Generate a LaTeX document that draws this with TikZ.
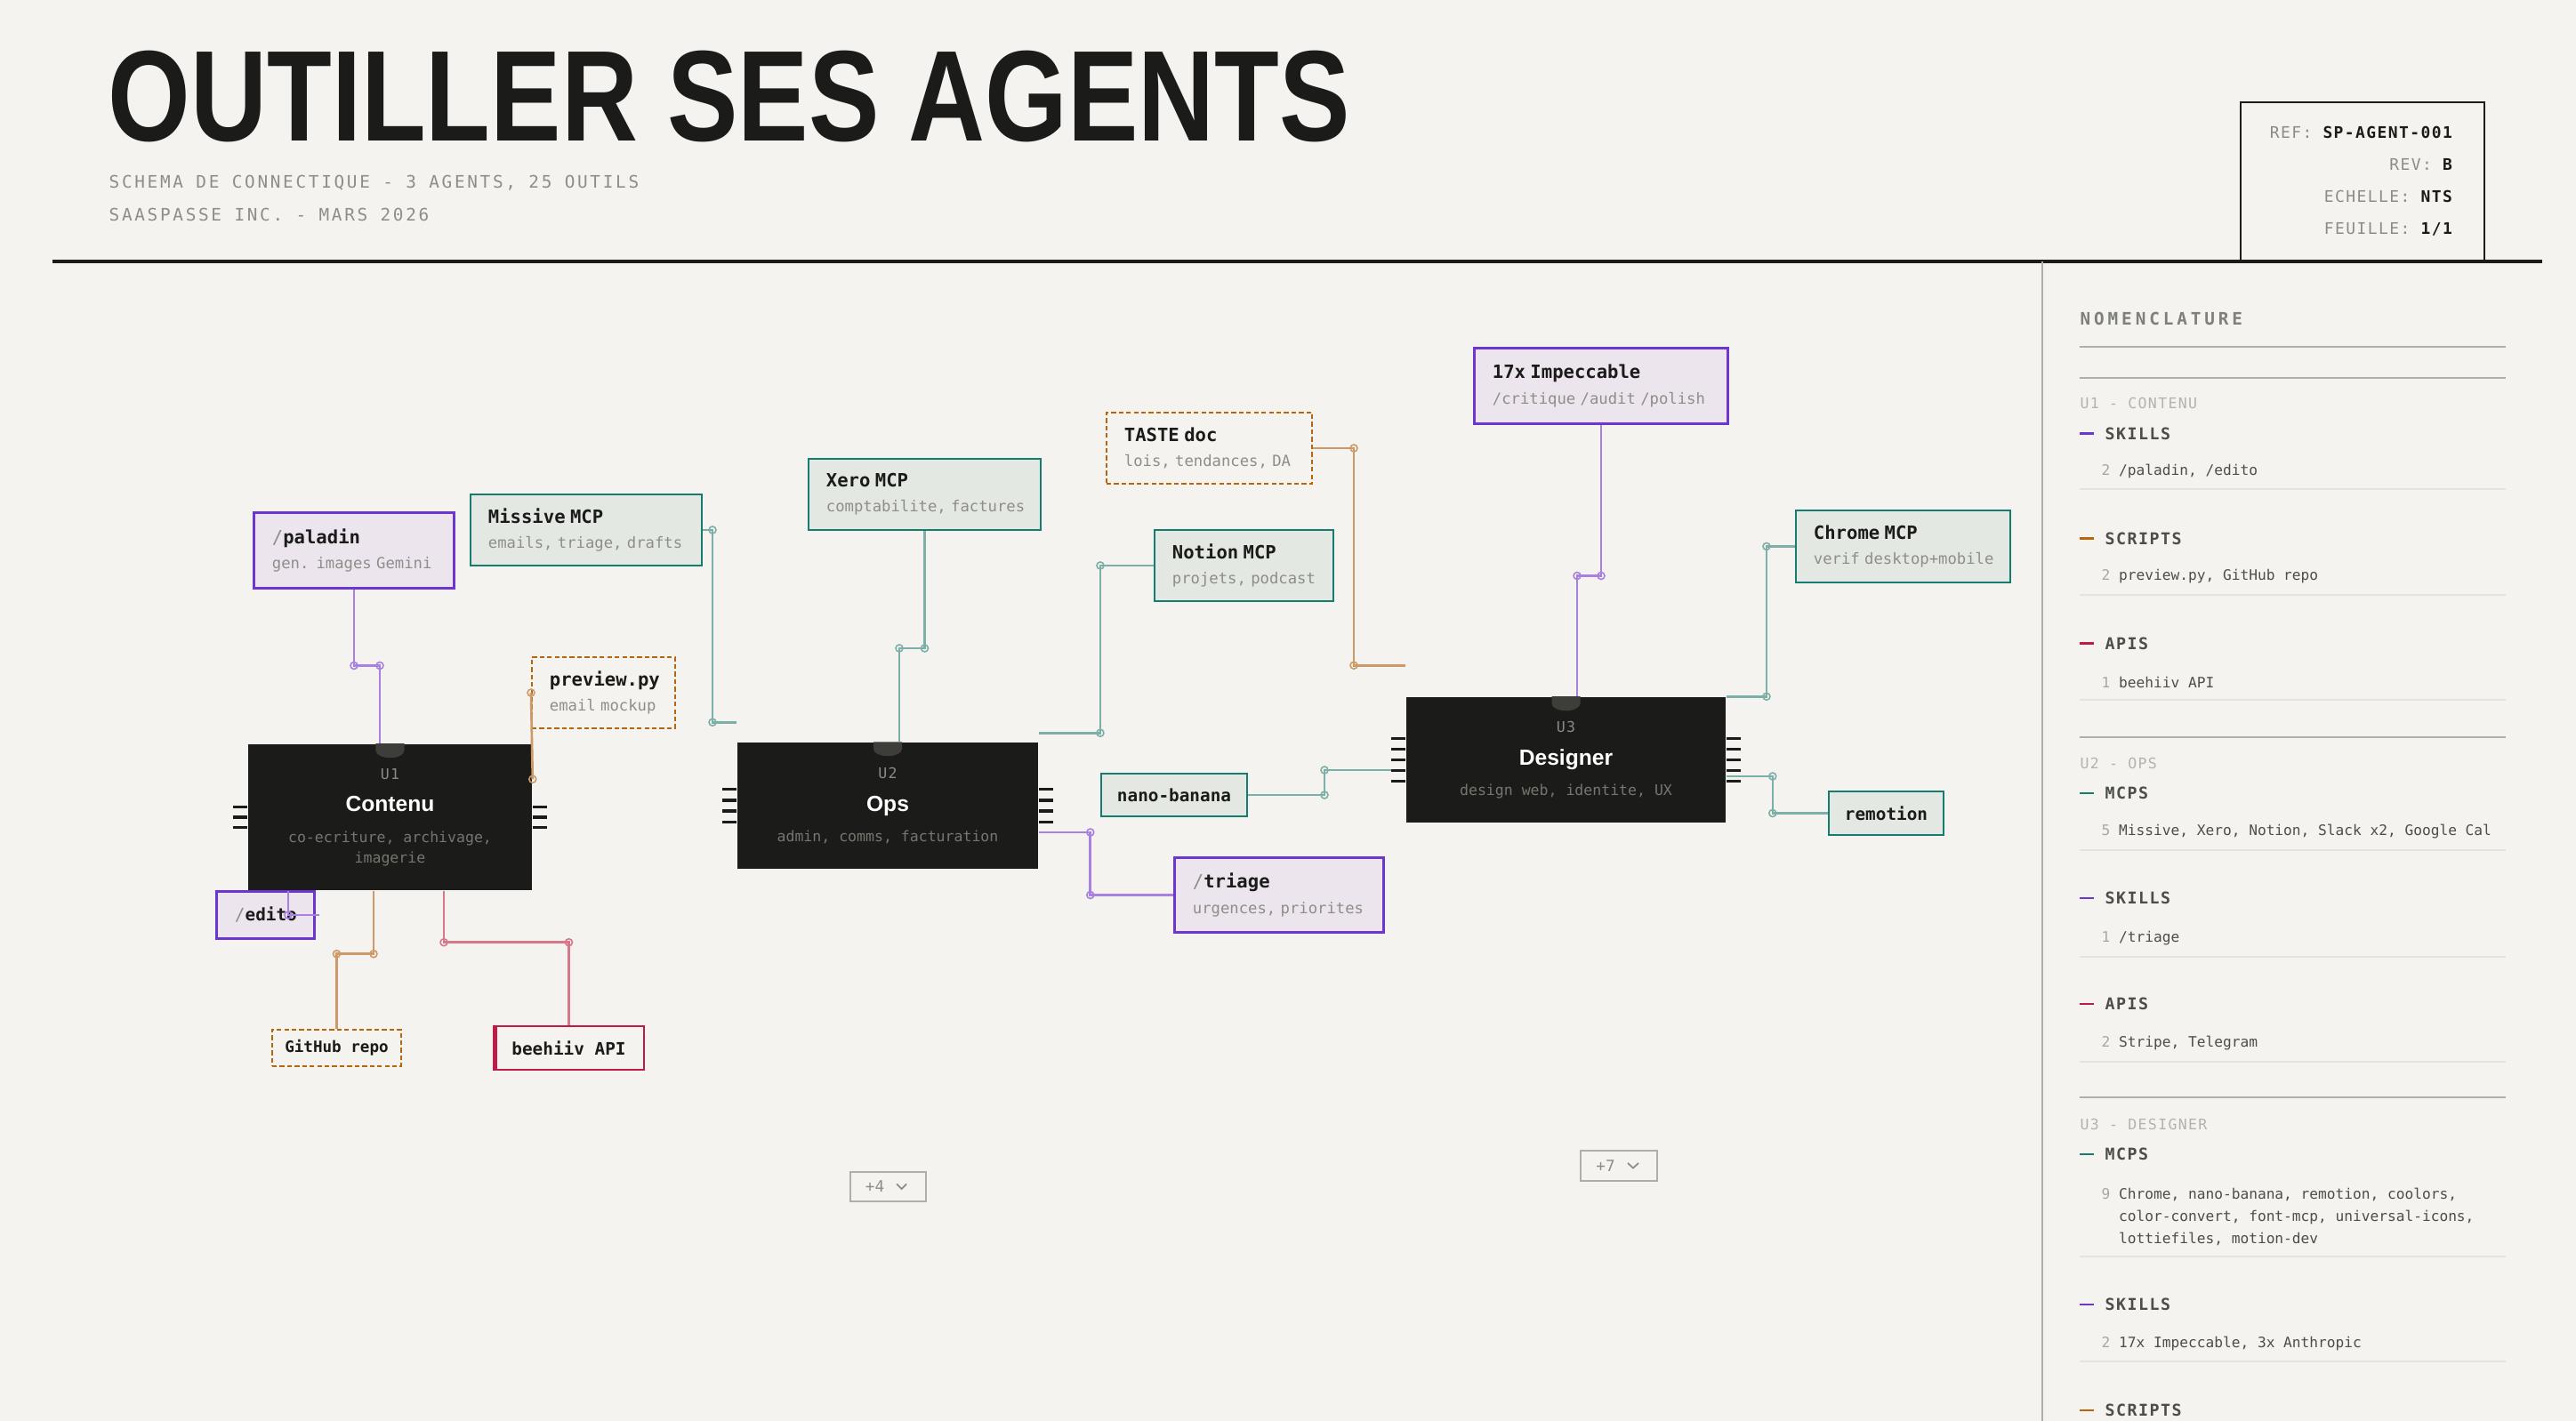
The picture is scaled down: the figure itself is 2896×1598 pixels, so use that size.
\documentclass[tikz,border=0pt]{standalone}
\usepackage{fontspec}
\usepackage{xcolor}
\usepackage{tikz}

\setmainfont{Liberation Sans}
\newfontfamily\headfont{Liberation Sans}[FakeStretch=0.82]
\newfontfamily\monof{DejaVu Sans Mono}
\newfontfamily\monols{DejaVu Sans Mono}[LetterSpace=8]
\newfontfamily\monomid{DejaVu Sans Mono}[LetterSpace=14]
\newfontfamily\monowide{DejaVu Sans Mono}[LetterSpace=20]

\definecolor{paper}{HTML}{F4F3EF}
\definecolor{ink}{HTML}{1B1B19}
\definecolor{subgray}{HTML}{8E8E89}
\definecolor{idgray}{HTML}{8A8A86}
\definecolor{descgray}{HTML}{76766F}
\definecolor{labgray}{HTML}{8C8C87}
\definecolor{nomgray}{HTML}{80807B}
\definecolor{itemc}{HTML}{4E4E49}
\definecolor{numgray}{HTML}{A8A8A3}
\definecolor{grouplab}{HTML}{B3B3AE}
\definecolor{rulegray}{HTML}{AEAEAA}
\definecolor{faint}{HTML}{E4E3DF}
\definecolor{notchc}{HTML}{3D3D39}
\definecolor{mcpc}{HTML}{167C70}
\definecolor{mcpfill}{HTML}{E4E8E3}
\definecolor{mcpln}{HTML}{7BAFA7}
\definecolor{skillc}{HTML}{6D36CF}
\definecolor{skillfill}{HTML}{ECE5EE}
\definecolor{skillln}{HTML}{A880E0}
\definecolor{scriptc}{HTML}{B8650F}
\definecolor{scriptln}{HTML}{CD9966}
\definecolor{apic}{HTML}{BE1B46}
\definecolor{apiln}{HTML}{D6788A}

\newcommand{\ttl}[2][5.85]{\mbox{\bfseries\fontsize{#1}{8}\selectfont #2}}
\newcommand{\sbt}[1]{\mbox{\fontsize{4.9}{8}\selectfont\color{subgray}#1}}
\newcommand{\skl}{{\mdseries\color{subgray}/}}
\newcommand{\chipid}[1]{{\monols\fontsize{4.7}{6.5}\selectfont\color{idgray}#1}}
\newcommand{\chipname}[1]{{\rmfamily\bfseries\fontsize{7}{6.5}\selectfont\color{white}#1}}

\hyphenpenalty=10000
\exhyphenpenalty=10000

\begin{document}
\begin{tikzpicture}[
        x=0.01cm, y=-0.01cm,
        chip/.style={rectangle, fill=ink, inner sep=0pt, align=center, text=descgray,
            font=\monof\fontsize{4.7}{6.5}\selectfont},
        tool/.style={rectangle, inner xsep=0.2cm, inner ysep=0pt, align=left, text=ink,
            font=\monof\fontsize{4.6}{8}\selectfont},
        skill/.style={tool, draw=skillc, line width=0.85pt, fill=skillfill},
        mcp/.style={tool, draw=mcpc, line width=0.55pt, fill=mcpfill},
        script/.style={tool, draw=scriptc, line width=0.55pt, dash pattern=on 1.5pt off 0.9pt, fill=paper},
        api/.style={tool, draw=apic, line width=0.55pt, fill=paper},
        single/.style={inner xsep=0pt, align=center},
        wire/.style={line width=0.75pt},
        skillwire/.style={wire, color=skillln},
        mcpwire/.style={wire, color=mcpln},
        scriptwire/.style={wire, color=scriptln},
        apiwire/.style={wire, color=apiln},
        jdot/.style={circle, draw, line width=0.45pt, inner sep=0pt, minimum size=0.08cm},
        pin/.style={draw=ink, line width=0.95pt},
        rubric/.style={anchor=west, inner sep=0pt, text=itemc,
            font=\monols\bfseries\fontsize{5.2}{6}\selectfont},
        item/.style={anchor=west, inner sep=0pt, align=left, text=itemc,
            font=\monof\fontsize{4.6}{7.1}\selectfont},
        grouplabel/.style={anchor=west, inner sep=0pt, text=grouplab,
            font=\monols\fontsize{4.7}{6}\selectfont},
        morebtn/.style={rectangle, draw=rulegray, line width=0.6pt, inner sep=0pt},
    ]
    \useasboundingbox (0,0) rectangle (2896,1598);
    \fill[paper] (0,0) rectangle (2896,1598);

    %% header
    \node[anchor=base west, inner sep=0pt, text=ink,
        font=\headfont\bfseries\fontsize{41.3}{41.3}\selectfont] (title) at (121,159) {OUTILLER SES AGENTS};
    \node[anchor=west, inner sep=0pt, text=subgray, font=\monomid\fontsize{5.5}{6}\selectfont]
        (sub1) at (122,206) {SCHEMA DE CONNECTIQUE - 3 AGENTS, 25 OUTILS};
    \node[anchor=west, inner sep=0pt, text=subgray, font=\monomid\fontsize{5.5}{6}\selectfont]
        (sub2) at (122,241) {SAASPASSE INC. - MARS 2026};
    \draw[ink, line width=0.6pt] (2519,294) |- (2793,115) -- (2793,294);
    \node[anchor=east, align=right, inner sep=0pt, text=ink, font=\monols\fontsize{5.1}{10.2}\selectfont]
        (cartouche) at (2759,203.5) {{\color{labgray}REF:} \textbf{SP-AGENT-001}\\
        {\color{labgray}REV:} \textbf{B}\\
        {\color{labgray}ECHELLE:} \textbf{NTS}\\
        {\color{labgray}FEUILLE:} \textbf{1/1}};
    \draw[ink, line width=1.15pt] (59,294) -- (2858,294);

    %% agents
    \node[chip, minimum width=3.19cm, minimum height=1.64cm] (contenu) at (438.5,919)
        {\chipid{U1}\\[3.7pt]\chipname{Contenu}\\[3.5pt]co-ecriture, archivage,\\imagerie};
    \node[chip, minimum width=3.38cm, minimum height=1.42cm] (ops) at (998,906)
        {\chipid{U2}\\[4pt]\chipname{Ops}\\[3.2pt]admin, comms, facturation};
    \node[chip, minimum width=3.59cm, minimum height=1.41cm] (designer) at (1760.5,854.5)
        {\chipid{U3}\\[4pt]\chipname{Designer}\\[3pt]design web, identite, UX};

    %% outils
    \node[skill, text width=1.84cm, minimum height=0.84cm] (paladin) at (398,619)
        {\ttl{\skl paladin}\\\sbt{gen. images Gemini}};
    \node[mcp, text width=2.20cm, minimum height=0.80cm] (missive) at (659,596)
        {\ttl{Missive MCP}\\\sbt{emails, triage, drafts}};
    \node[script, text width=1.21cm, minimum height=0.80cm] (preview) at (678.5,779)
        {\ttl{preview.py}\\\sbt{email mockup}};
    \node[skill, text width=0.69cm, minimum height=0.52cm] (edito) at (298.5,1029) {\ttl[5.5]{\skl edito}};
    \node[script, single, minimum width=1.45cm, minimum height=0.41cm] (github) at (378.5,1178.5)
        {\ttl[5]{GitHub repo}};
    \node[api, single, minimum width=1.69cm, minimum height=0.49cm] (beehiiv) at (639.5,1178.5) {\ttl[5.5]{beehiiv API}};
    \fill[apic] (beehiiv.north west) rectangle ([xshift=0.05cm]beehiiv.south west);
    \node[mcp, text width=2.21cm, minimum height=0.80cm] (xero) at (1039.5,556)
        {\ttl{Xero MCP}\\\sbt{comptabilite, factures}};
    \node[script, text width=1.91cm, minimum height=0.80cm] (taste) at (1359.5,504)
        {\ttl{TASTE doc}\\\sbt{lois, tendances, DA}};
    \node[mcp, text width=1.61cm, minimum height=0.80cm] (notion) at (1398.5,636)
        {\ttl{Notion MCP}\\\sbt{projets, podcast}};
    \node[mcp, single, minimum width=1.64cm, minimum height=0.48cm] (nano) at (1320,894) {\ttl[5.5]{nano-banana}};
    \node[skill, text width=1.94cm, minimum height=0.83cm] (triage) at (1438,1006.5)
        {\ttl{\skl triage}\\\sbt{urgences, priorites}};
    \node[skill, text width=2.44cm, minimum height=0.84cm] (impeccable) at (1800,434)
        {\ttl{17x Impeccable}\\\sbt{/critique /audit /polish}};
    \node[mcp, text width=2.01cm, minimum height=0.81cm] (chrome) at (2139.5,614.5)
        {\ttl{Chrome MCP}\\\sbt{verif desktop+mobile}};
    \node[mcp, single, minimum width=1.29cm, minimum height=0.49cm] (remotion) at (2120.5,914.5) {\ttl[5.5]{remotion}};

    %% liaisons
    \draw[skillwire] (paladin.south) -- ++(0,86) node[jdot]{} -| node[jdot,pos=.5]{} ([xshift=-0.115cm]contenu.north);
    \draw[skillwire] ([xshift=0.04cm]edito.east) -| node[jdot,pos=.5]{} ([xshift=-1.145cm]contenu.south);
    \draw[scriptwire] ([xshift=-0.185cm]contenu.south) -- ++(0,71) node[jdot]{} -| node[jdot,pos=.5]{} (github.north);
    \draw[apiwire] ([xshift=0.605cm]contenu.south) -- ++(0,58) node[jdot]{} -| node[jdot,pos=.5]{} (beehiiv.north);
    \draw[scriptwire] (preview.west) node[jdot]{} -- ([yshift=-0.4cm]contenu.north east) node[jdot]{};
    \draw[mcpwire] (missive.east) -- ++(11,0) node[jdot]{} |- node[jdot,pos=.5]{} ([yshift=0.22cm]ops.north west);
    \draw[mcpwire] (xero.south) -- ++(0,132) node[jdot]{} -| node[jdot,pos=.5]{} ([xshift=0.13cm]ops.north);
    \draw[mcpwire] (notion.west) -- ++(-60,0) node[jdot]{} |- node[jdot,pos=.5]{} ([yshift=0.1cm]ops.north east);
    \draw[skillwire] ([yshift=-0.3cm]ops.east) -- ++(58,0) node[jdot]{} |- node[jdot,pos=.5]{} (triage.west);
    \draw[mcpwire] (nano.east) -- ++(86,0) node[jdot]{} |- node[jdot,pos=.5]{} ([yshift=-0.115cm]designer.west);
    \draw[scriptwire] (taste.east) -- ++(46,0) node[jdot]{} |- node[jdot,pos=.5]{} ([yshift=0.35cm]designer.north west);
    \draw[skillwire] (impeccable.south) -- ++(0,170) node[jdot]{} -| node[jdot,pos=.5]{} ([xshift=0.125cm]designer.north);
    \draw[mcpwire] (chrome.west) -- ++(-32,0) node[jdot]{} |- node[jdot,pos=.5]{} (designer.north east);
    \draw[mcpwire] ([yshift=-0.185cm]designer.east) -- ++(52,0) node[jdot]{} |- node[jdot,pos=.5]{} (remotion.west);

    %% broches et encoches
    \foreach \k in {-1,0,1} {
        \draw[pin] ([yshift=\k*0.117cm]contenu.west) -- ++(-16,0);
        \draw[pin] ([yshift=\k*0.117cm]contenu.east) -- ++(16,0);
    }
    \foreach \k in {-1.5,-0.5,0.5,1.5} {
        \draw[pin] ([yshift=\k*0.123cm]ops.west) -- ++(-16,0);
        \draw[pin] ([yshift=\k*0.123cm]ops.east) -- ++(16,0);
    }
    \foreach \k in {-2,-1,0,1,2} {
        \draw[pin] ([yshift=\k*0.12cm]designer.west) -- ++(-16,0);
        \draw[pin] ([yshift=\k*0.12cm]designer.east) -- ++(16,0);
    }
    \foreach \c in {contenu,ops,designer}
        \fill[notchc] ([xshift=-0.16cm]\c.north) -- ++(0,8)
            arc[start angle=180, end angle=360, x radius=0.16cm, y radius=0.08cm] -- ++(0,-8) -- cycle;

    %% boutons
    \node[morebtn, minimum width=0.85cm, minimum height=0.33cm] (more4) at (998.5,1334.5) {};
    \node[inner sep=0pt, text=subgray, font=\monof\fontsize{5}{6}\selectfont] (more4txt)
        at ([xshift=-0.15cm]more4.center) {+4};
    \draw[subgray, line width=0.5pt] ([shift={(9.5,-3)}]more4.center) -- ([shift={(15,2.5)}]more4.center)
        -- ([shift={(20.5,-3)}]more4.center);
    \node[morebtn, minimum width=0.86cm, minimum height=0.34cm] (more7) at (1820,1311) {};
    \node[inner sep=0pt, text=subgray, font=\monof\fontsize{5}{6}\selectfont] (more7txt)
        at ([xshift=-0.15cm]more7.center) {+7};
    \draw[subgray, line width=0.5pt] ([shift={(10,-3)}]more7.center) -- ([shift={(16,2.5)}]more7.center)
        -- ([shift={(22,-3)}]more7.center);

    %% nomenclature
    \draw[rulegray, line width=0.6pt] (2296,294) -- (2296,1598);
    \node[anchor=west, inner sep=0pt, text=nomgray, font=\monowide\bfseries\fontsize{5.5}{6}\selectfont]
        (nomtitle) at (2338,358) {NOMENCLATURE};
    \foreach \y in {390,425,829,1234}
        \draw[rulegray, line width=0.6pt] (2338,\y) -- (2817,\y);
    \foreach \y in {550,669,787,956,1076,1194,1413,1531}
        \draw[faint, line width=0.5pt] (2338,\y) -- (2817,\y);
    \node[grouplabel] (u1lab) at (2338,453) {U1 - CONTENU};
    \node[grouplabel] (u2lab) at (2338,858) {U2 - OPS};
    \node[grouplabel] (u3lab) at (2338,1264) {U3 - DESIGNER};
    \foreach \y/\c/\h in {488/skillc/SKILLS, 606/scriptc/SCRIPTS, 724/apic/APIS,
            892/mcpc/MCPS, 1010/skillc/SKILLS, 1129/apic/APIS,
            1298/mcpc/MCPS, 1467/skillc/SKILLS, 1586/scriptc/SCRIPTS} {
        \draw[\c, line width=0.85pt] (2338,\y) -- (2354,\y);
        \node[rubric] (rub\y) at (2366,\y) {\h};
    }
    \foreach \y/\n/\t in {530/2/{/paladin, /edito}, 648/2/{preview.py, GitHub repo}, 767/1/{beehiiv API},
            935/5/{Missive, Xero, Notion, Slack x2, Google Cal}, 1055/1/{/triage}, 1173/2/{Stripe, Telegram},
            1511/2/{17x Impeccable, 3x Anthropic}}
        \node[item] (item\y) at (2362,\y) {{\color{numgray}\n} \t};
    \node[item] (item1368) at (2362,1368) {{\color{numgray}9} Chrome, nano-banana, remotion, coolors,\\
        \hphantom{9}\ color-convert, font-mcp, universal-icons,\\
        \hphantom{9}\ lottiefiles, motion-dev};
\end{tikzpicture}
\end{document}
